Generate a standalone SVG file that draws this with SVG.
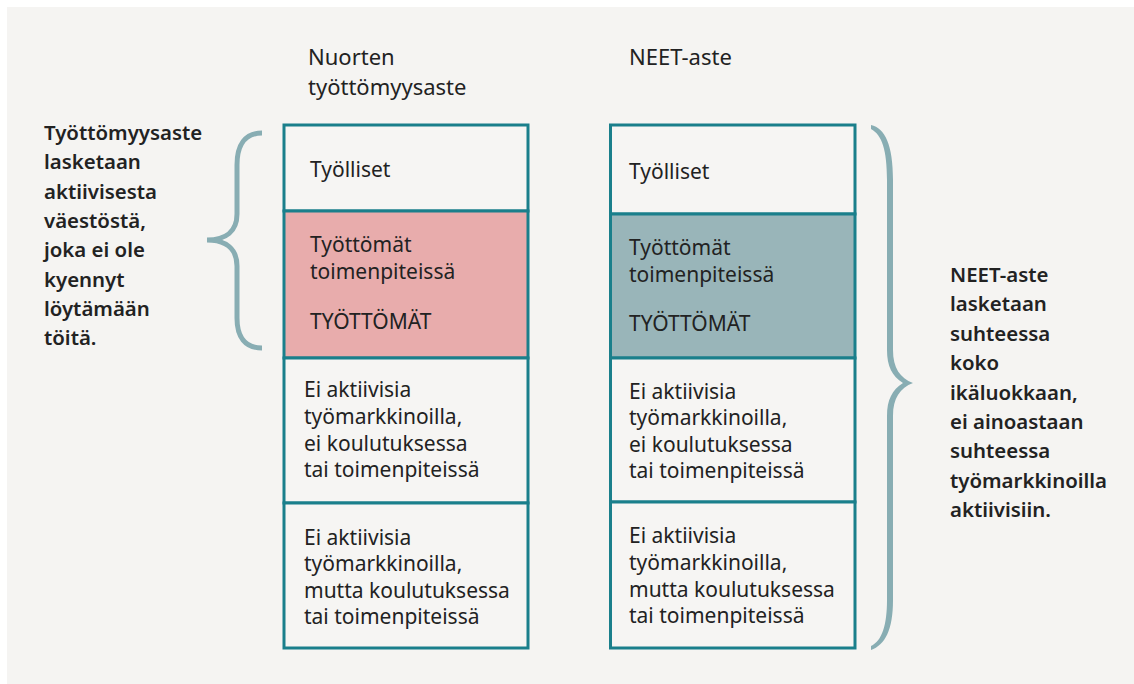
<svg xmlns="http://www.w3.org/2000/svg" width="1134" height="684" viewBox="0 0 1134 684">
<style>
  text { font-family: "Noto Sans", "Open Sans", "Liberation Sans", sans-serif; fill: #222222; }
  .t { font-size: 21px; }
  .h { font-size: 22px; }
  .b { font-size: 20.4px; font-weight: 600; }
  .cell { fill: #f6f5f3; stroke: #1a7f8b; stroke-width: 3; }
  .pink { fill: #e8acac; stroke: #1a7f8b; stroke-width: 3; }
  .teal { fill: #99b5b9; stroke: #1a7f8b; stroke-width: 3; }
  .brace { fill: none; stroke: #88adb3; stroke-width: 5; }
</style>
<rect x="0" y="0" width="1134" height="684" fill="#ffffff"/>
<rect x="7" y="7" width="1127" height="677" fill="#f5f4f2"/>

<g id="header-left">
  <text class="h" x="308" y="65">Nuorten</text>
  <text class="h" x="308" y="95">työttömyysaste</text>
</g>
<g id="header-right">
  <text class="h" x="629" y="65">NEET-aste</text>
</g>

<g id="left-note">
  <text class="b" x="44" y="140">Työttömyysaste</text>
  <text class="b" x="44" y="169.3">lasketaan</text>
  <text class="b" x="44" y="198.6">aktiivisesta</text>
  <text class="b" x="44" y="227.9">väestöstä,</text>
  <text class="b" x="44" y="257.2">joka ei ole</text>
  <text class="b" x="44" y="286.5">kyennyt</text>
  <text class="b" x="44" y="315.8">löytämään</text>
  <text class="b" x="44" y="345">töitä.</text>
</g>

<g id="right-note">
  <text class="b" x="950" y="282">NEET-aste</text>
  <text class="b" x="950" y="311.4">lasketaan</text>
  <text class="b" x="950" y="340.8">suhteessa</text>
  <text class="b" x="950" y="370.2">koko</text>
  <text class="b" x="950" y="399.6">ikäluokkaan,</text>
  <text class="b" x="950" y="429">ei ainoastaan</text>
  <text class="b" x="950" y="458.4">suhteessa</text>
  <text class="b" x="950" y="487.8">työmarkkinoilla</text>
  <text class="b" x="950" y="517.2">aktiivisiin.</text>
</g>

<g id="left-tyolliset">
  <rect class="cell" x="284" y="125" width="244" height="86"/>
  <text class="t" x="310" y="177">Työlliset</text>
</g>
<g id="left-tyottomat">
  <rect class="pink" x="284" y="211" width="244" height="147"/>
  <text class="t" x="310" y="252">Työttömät</text>
  <text class="t" x="310" y="279">toimenpiteissä</text>
  <text class="t" x="310" y="329">TYÖTTÖMÄT</text>
</g>
<g id="left-ei-aktiivisia-1">
  <rect class="cell" x="284" y="358" width="244" height="145"/>
  <text class="t" x="304" y="397">Ei aktiivisia</text>
  <text class="t" x="304" y="424">työmarkkinoilla,</text>
  <text class="t" x="304" y="451">ei koulutuksessa</text>
  <text class="t" x="304" y="477">tai toimenpiteissä</text>
</g>
<g id="left-ei-aktiivisia-2">
  <rect class="cell" x="284" y="503" width="244" height="145"/>
  <text class="t" x="304" y="545">Ei aktiivisia</text>
  <text class="t" x="304" y="571">työmarkkinoilla,</text>
  <text class="t" x="304" y="598">mutta koulutuksessa</text>
  <text class="t" x="304" y="624">tai toimenpiteissä</text>
</g>

<g id="right-tyolliset">
  <rect class="cell" x="610.5" y="125" width="244.5" height="89"/>
  <text class="t" x="629" y="179">Työlliset</text>
</g>
<g id="right-tyottomat">
  <rect class="teal" x="610.5" y="214" width="244.5" height="144"/>
  <text class="t" x="629" y="255">Työttömät</text>
  <text class="t" x="629" y="282">toimenpiteissä</text>
  <text class="t" x="629" y="331">TYÖTTÖMÄT</text>
</g>
<g id="right-ei-aktiivisia-1">
  <rect class="cell" x="610.5" y="358" width="244.5" height="144"/>
  <text class="t" x="629" y="399">Ei aktiivisia</text>
  <text class="t" x="629" y="425">työmarkkinoilla,</text>
  <text class="t" x="629" y="452">ei koulutuksessa</text>
  <text class="t" x="629" y="478">tai toimenpiteissä</text>
</g>
<g id="right-ei-aktiivisia-2">
  <rect class="cell" x="610.5" y="502" width="244.5" height="146"/>
  <text class="t" x="629" y="543">Ei aktiivisia</text>
  <text class="t" x="629" y="570">työmarkkinoilla,</text>
  <text class="t" x="629" y="597">mutta koulutuksessa</text>
  <text class="t" x="629" y="623">tai toimenpiteissä</text>
</g>

<g id="connectors">
  <path class="brace" d="M262,133 C245,133 237,145 237,165 L237,214 C237,231 226,240 207,240 C226,240 237,249 237,266 L237,318 C237,337 245,348 262,348"/>
  <path fill="#88adb3" d="M871,125 C885,128 893,145 893,180 L893,350 C893,368 900,378 913,383 C900,388 893,398 893,416 L893,600 C893,630 885,645 871,650 L871,646 C882,641 887,625 887,600 L887,416 C887,400 892,390 903,383 C892,376 887,366 887,350 L887,180 C887,150 882,135 871,129 Z"/>
</g>
</svg>
